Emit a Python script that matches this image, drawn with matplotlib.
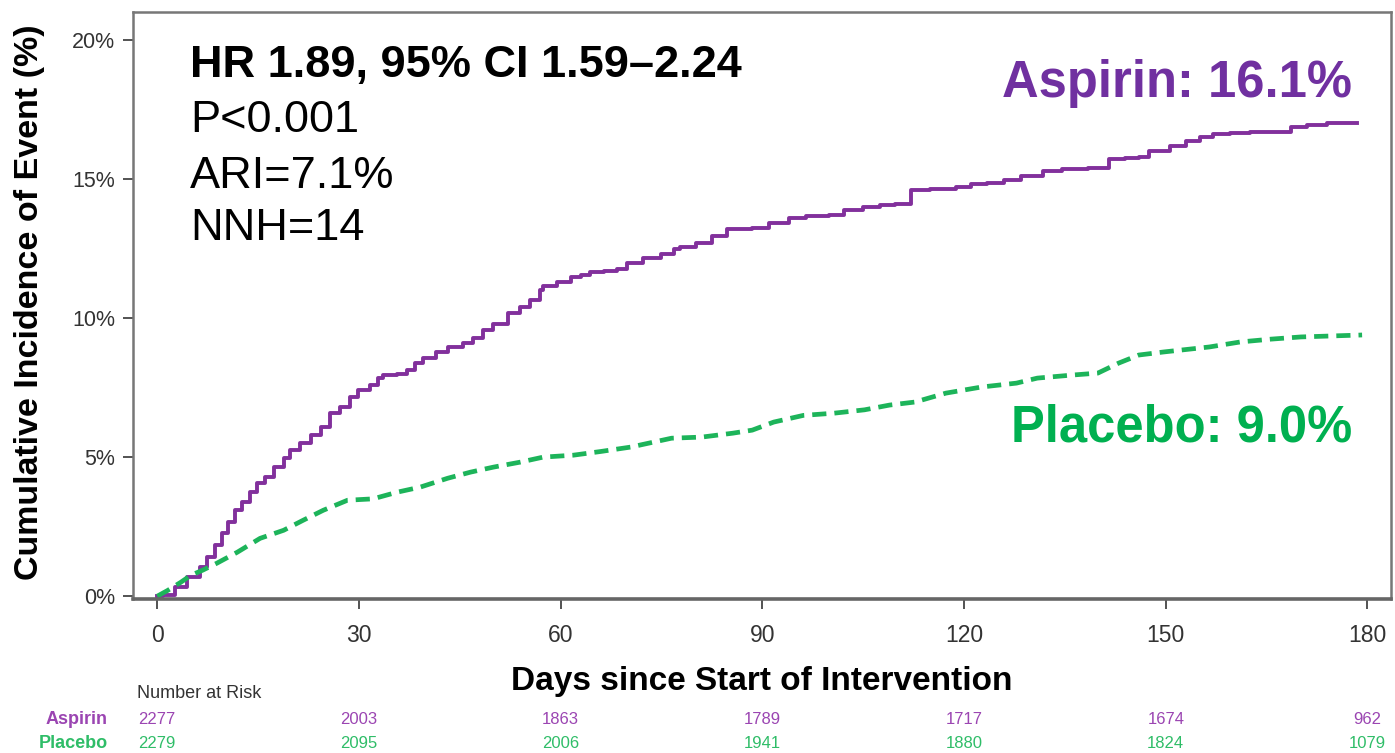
import numpy as np
import matplotlib
matplotlib.use("Agg")
import matplotlib.pyplot as plt

plt.rcParams['font.family'] = ['Liberation Sans', 'DejaVu Sans']

# cumulative incidence (%) by day, read as step points
aspirin_days = [0, 0.9, 2.7, 4.5, 6.4, 7.4, 8.6, 9.7, 10.6, 11.6, 12.6, 13.8, 14.9, 16.1,
                17.3, 18.8, 19.8, 21.3, 22.8, 24.3, 25.7, 27.2, 28.7, 29.8, 31.7, 32.9,
                33.6, 35.7, 37.2, 38.4, 39.6, 41.4, 43.3, 45.5, 47.0, 48.5, 50.0, 52.1,
                54.0, 55.5, 57.0, 57.4, 59.5, 61.5, 63.0, 64.4, 66.4, 68.4, 69.9, 72.3,
                74.9, 76.8, 77.8, 80.2, 82.5, 84.8, 88.5, 91.0, 93.9, 96.5, 99.9, 102.2,
                105.0, 107.5, 109.7, 112.1, 115.0, 118.8, 121.0, 123.4, 126.0, 128.5,
                131.7, 134.5, 138.4, 141.5, 144.0, 146.0, 147.5, 150.6, 153.0, 155.1,
                157.0, 159.5, 162.5, 165.7, 168.6, 171.0, 174.0, 178.4]
aspirin_pct = [0, 0.05, 0.33, 0.7, 1.04, 1.4, 1.83, 2.26, 2.67, 3.1, 3.38, 3.74, 4.06, 4.28,
               4.64, 4.96, 5.25, 5.5, 5.8, 6.08, 6.58, 6.8, 7.16, 7.41, 7.59, 7.84,
               7.95, 7.99, 8.13, 8.38, 8.56, 8.78, 8.96, 9.1, 9.28, 9.57, 9.8, 10.18,
               10.4, 10.65, 11.0, 11.15, 11.3, 11.47, 11.55, 11.65, 11.7, 11.76, 11.98, 12.16,
               12.3, 12.48, 12.55, 12.7, 12.95, 13.2, 13.25, 13.4, 13.6, 13.65, 13.7, 13.9,
               14.0, 14.05, 14.1, 14.6, 14.65, 14.7, 14.8, 14.85, 14.95, 15.1,
               15.3, 15.35, 15.4, 15.7, 15.75, 15.8, 16.0, 16.2, 16.35, 16.5,
               16.6, 16.65, 16.68, 16.7, 16.87, 16.95, 17.0, 17.0]

placebo_days = [0, 1.5, 3.5, 5.0, 6.8, 8.9, 11.9, 15.3, 18.8, 21.7, 24.7, 28.3, 32.1, 35.7,
                39.1, 43.2, 46.6, 50.0, 54.0, 57.4, 61.9, 65.9, 70.4, 76.5, 81.0, 85.6,
                88.5, 91.7, 96.1, 100.7, 105.2, 108.9, 112.7, 117.3, 122.6, 127.8, 130.9,
                136.1, 139.9, 143.0, 146.0, 149.7, 156.5, 161.1, 165.6, 170.1, 179.2]
placebo_pct = [0, 0.2, 0.5, 0.75, 0.94, 1.19, 1.58, 2.08, 2.37, 2.73, 3.09, 3.45, 3.5, 3.74,
               3.92, 4.24, 4.46, 4.64, 4.82, 5.0, 5.07, 5.2, 5.36, 5.68, 5.72, 5.86,
               5.97, 6.26, 6.5, 6.58, 6.7, 6.87, 6.98, 7.3, 7.52, 7.66, 7.84,
               7.95, 8.02, 8.38, 8.67, 8.78, 8.96, 9.14, 9.24, 9.32, 9.39]

xticks = [0, 30, 60, 90, 120, 150, 180]
yticks = [0, 5, 10, 15, 20]
risk_aspirin = [2277, 2003, 1863, 1789, 1717, 1674, 962]
risk_placebo = [2279, 2095, 2006, 1941, 1880, 1824, 1079]

stats_lines = ["HR 1.89, 95% CI 1.59\u20132.24", "P<0.001", "ARI=7.1%", "NNH=14"]
aspirin_label = "Aspirin: 16.1%"
placebo_label = "Placebo: 9.0%"

PURPLE = "#82309c"
GREEN = "#1db45a"
W, H = 1395, 753

fig = plt.figure(figsize=(W / 100, H / 100), dpi=100)
ax = fig.add_axes([133 / W, 1 - 599 / H, (1391 - 133) / W, (599 - 12) / H])

ax.plot(aspirin_days, aspirin_pct, drawstyle="steps-post", color=PURPLE, lw=2.8)
ax.plot(placebo_days, placebo_pct, color=GREEN, lw=3.4, dashes=(3.0, 1.7))

ax.set_xlim(-3.6, 183.5)
ax.set_ylim(-0.1, 21.0)
ax.set_xticks(xticks)
ax.set_yticks(yticks)
ax.set_yticklabels([f"{v}%" for v in yticks])
ax.tick_params(axis="x", length=7, width=1.3, color="#444", pad=11,
               labelsize=16.5, labelcolor="#333")
ax.tick_params(axis="y", length=7, width=1.3, color="#444", pad=6,
               labelsize=15.5, labelcolor="#333")
for side in ["top", "right", "left"]:
    ax.spines[side].set_color("#777")
    ax.spines[side].set_linewidth(1.8)
ax.spines["bottom"].set_color("#666")
ax.spines["bottom"].set_linewidth(2.6)

ax.set_xlabel("Days since Start of Intervention", fontsize=24, fontweight="bold",
              labelpad=14)
fig.text(30 / W, 1 - 302 / H, "Cumulative Incidence of Event (%)", rotation=90,
         fontsize=24.5, fontweight="bold", ha="center", va="center")

# statistics block
stat_y = [66, 121, 176, 229]
for i, (line, y) in enumerate(zip(stats_lines, stat_y)):
    fig.text(190 / W, 1 - y / H, line, fontsize=32.5,
             fontweight="bold" if i == 0 else "normal", ha="left", va="center")

fig.text(1352 / W, 1 - 84 / H, aspirin_label, color="#7030a0", fontsize=36.5,
         fontweight="bold", ha="right", va="center")
fig.text(1352 / W, 1 - 428 / H, placebo_label, color="#00b050", fontsize=36.5,
         fontweight="bold", ha="right", va="center")

# number at risk table
fig.text(137 / W, 1 - 693 / H, "Number at Risk", fontsize=13, color="#333",
         ha="left", va="center")
fig.text(108 / W, 1 - 720 / H, "Aspirin", fontsize=13, fontweight="bold",
         color="#9b45b2", ha="right", va="center")
fig.text(108 / W, 1 - 743 / H, "Placebo", fontsize=13, fontweight="bold",
         color="#2fbd68", ha="right", va="center")
for t, a, p in zip(xticks, risk_aspirin, risk_placebo):
    x_fig = fig.transFigure.inverted().transform(ax.transData.transform((t, 0)))[0]
    fig.text(x_fig, 1 - 720 / H, str(a), fontsize=12, color="#9b45b2",
             ha="center", va="center")
    fig.text(x_fig, 1 - 743 / H, str(p), fontsize=12, color="#2fbd68",
             ha="center", va="center")

fig.savefig("out.png", dpi=100)
